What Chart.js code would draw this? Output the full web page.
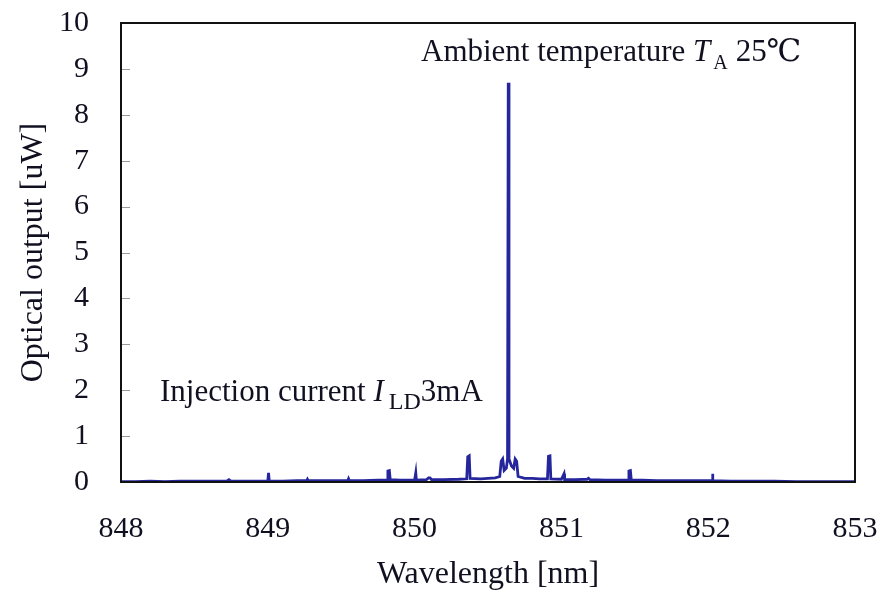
<!DOCTYPE html>
<html>
<head>
<meta charset="utf-8">
<script src="https://cdn.jsdelivr.net/npm/chart.js@4.4.1/dist/chart.umd.min.js"></script>
<style>
  html, body { margin: 0; padding: 0; background: #ffffff; }
  #wrap { width: 881px; height: 602px; }
</style>
</head>
<body>
<div id="wrap"><canvas id="c" width="881" height="602"></canvas></div>
<script>
// ---- data ----
const wavelengths = [
  848.00, 848.10, 848.20, 848.30, 848.40, 848.50, 848.60, 848.72, 848.735, 848.75,
  848.85, 848.95, 849.000, 849.005, 849.010, 849.10, 849.20, 849.265, 849.27, 849.275,
  849.40, 849.545, 849.55, 849.555, 849.65, 849.75, 849.812, 849.818, 849.828, 849.834,
  849.90, 850.00, 850.008, 850.012, 850.08, 850.095, 850.105, 850.115, 850.20, 850.30,
  850.355, 850.362, 850.372, 850.378, 850.45, 850.50, 850.55, 850.58, 850.59, 850.60,
  850.61, 850.625, 850.633, 850.638, 850.643, 850.66, 850.675, 850.685, 850.695, 850.705,
  850.75, 850.80, 850.85, 850.905, 850.912, 850.922, 850.928, 851.00, 851.018, 851.022,
  851.10, 851.175, 851.185, 851.195, 851.30, 851.40, 851.455, 851.460, 851.470, 851.476,
  851.55, 851.65, 851.75, 851.85, 851.95, 852.028, 852.030, 852.032, 852.15, 852.30,
  852.45, 852.60, 852.75, 852.90, 853.00
];
const opticalOutput = [
  0.01, 0.01, 0.02, 0.01, 0.02, 0.02, 0.02, 0.02, 0.05, 0.02,
  0.02, 0.02, 0.02, 0.20, 0.02, 0.02, 0.03, 0.03, 0.06, 0.03,
  0.03, 0.03, 0.07, 0.03, 0.03, 0.04, 0.04, 0.24, 0.25, 0.05,
  0.04, 0.04, 0.20, 0.04, 0.05, 0.09, 0.09, 0.05, 0.05, 0.06,
  0.07, 0.55, 0.57, 0.08, 0.07, 0.08, 0.09, 0.12, 0.45, 0.50,
  0.25, 0.30, 0.50, 8.70, 0.50, 0.35, 0.30, 0.50, 0.45, 0.12,
  0.08, 0.08, 0.07, 0.07, 0.56, 0.57, 0.07, 0.06, 0.18, 0.05,
  0.05, 0.06, 0.08, 0.05, 0.04, 0.04, 0.04, 0.24, 0.25, 0.04,
  0.04, 0.03, 0.03, 0.03, 0.03, 0.03, 0.18, 0.03, 0.02, 0.02,
  0.02, 0.01, 0.01, 0.01, 0.01
];
const xTicks = [848, 849, 850, 851, 852, 853];
const yTicks = [0, 1, 2, 3, 4, 5, 6, 7, 8, 9, 10];
const xTitle = "Wavelength [nm]";
const yTitle = "Optical output [uW]";

// ---- drawing ----
const FONT = "'Liberation Serif', 'DejaVu Serif', 'Times New Roman', serif";
const TEXT = "#101020";

const points = wavelengths.map((w, i) => ({ x: w, y: opticalOutput[i] }));

function flow(ctx, x, y, parts) {
  parts.forEach(p => {
    ctx.font = p.font;
    ctx.fillText(p.text, x, y + (p.dy || 0));
    x += ctx.measureText(p.text).width + (p.gap || 0);
  });
}

const framePlugin = {
  id: 'frame',
  afterDatasetsDraw(chart) {
    const { ctx, chartArea: a, scales } = chart;
    ctx.save();
    ctx.strokeStyle = '#9a9aa0';
    ctx.lineWidth = 1;
    yTicks.forEach(v => {
      if (v === 0 || v === 10) return;
      const y = Math.round(scales.y.getPixelForValue(v)) + 0.5;
      ctx.beginPath();
      ctx.moveTo(a.left, y);
      ctx.lineTo(a.left + 9, y);
      ctx.stroke();
    });
    ctx.strokeStyle = '#111';
    ctx.lineWidth = 2;
    ctx.strokeRect(a.left, a.top, a.right - a.left, a.bottom - a.top);
    ctx.restore();
  },
  afterDraw(chart) {
    const { ctx } = chart;
    ctx.save();
    ctx.fillStyle = TEXT;
    ctx.textBaseline = 'alphabetic';
    ctx.textAlign = 'left';
    flow(ctx, 421, 61, [
      { text: "Ambient temperature ", font: "31px " + FONT },
      { text: "T", font: "italic 31px " + FONT, gap: 3 },
      { text: "A", font: "20px " + FONT, dy: 8, gap: 8 },
      { text: "25\u2103", font: "31px " + FONT }
    ]);
    flow(ctx, 160, 401, [
      { text: "Injection current ", font: "31px " + FONT },
      { text: "I", font: "italic 31px " + FONT, gap: 5 },
      { text: "LD", font: "24px " + FONT, dy: 8, gap: 0 },
      { text: "3mA", font: "31px " + FONT }
    ]);
    ctx.restore();
  }
};

new Chart(document.getElementById('c'), {
  type: 'scatter',
  data: {
    datasets: [{
      data: points,
      showLine: true,
      borderColor: '#26269c',
      backgroundColor: '#26269c',
      borderWidth: 2.8,
      pointRadius: 0,
      tension: 0
    }]
  },
  options: {
    responsive: false,
    animation: false,
    layout: { padding: { left: 0, top: 23, right: 26, bottom: 0 } },
    plugins: { legend: { display: false }, tooltip: { enabled: false } },
    scales: {
      x: {
        type: 'linear',
        min: xTicks[0],
        max: xTicks[xTicks.length - 1],
        afterBuildTicks(s) { s.ticks = xTicks.map(v => ({ value: v })); },
        afterFit(s) { s.height = 120; },
        grid: { display: false, drawTicks: true, tickLength: 27 },
        border: { display: false },
        ticks: {
          color: TEXT,
          font: { family: FONT, size: 30 },
          padding: 2,
          maxRotation: 0,
          callback: v => String(v)
        },
        title: {
          display: true,
          text: xTitle,
          color: TEXT,
          font: { family: FONT, size: 32 },
          padding: { top: 0, bottom: 8 }
        }
      },
      y: {
        type: 'linear',
        min: yTicks[0],
        max: yTicks[yTicks.length - 1],
        afterBuildTicks(s) { s.ticks = yTicks.map(v => ({ value: v })); },
        afterFit(s) { s.width = 121; },
        grid: { display: false, drawTicks: true, tickLength: 30 },
        border: { display: false },
        ticks: {
          color: TEXT,
          font: { family: FONT, size: 30 },
          padding: 2,
          callback: v => String(v)
        },
        title: {
          display: true,
          text: yTitle,
          color: TEXT,
          font: { family: FONT, size: 32 },
          padding: { top: 14, bottom: 0 }
        }
      }
    }
  },
  plugins: [framePlugin]
});
</script>
</body>
</html>
